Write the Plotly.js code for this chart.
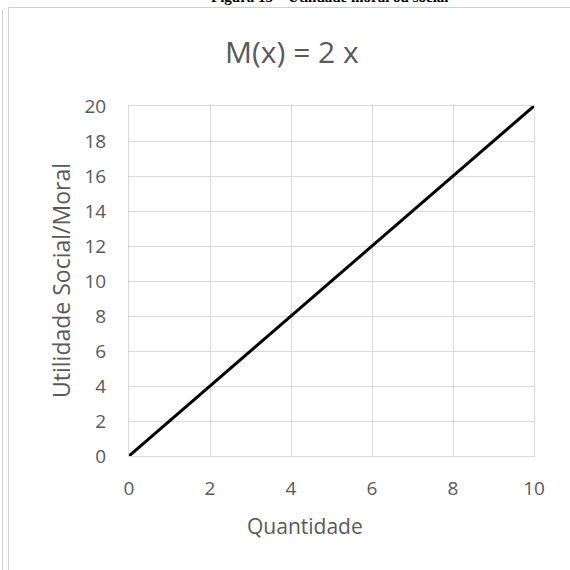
<!DOCTYPE html>
<html>
<head>
<meta charset="utf-8">
<script src="https://cdn.plot.ly/plotly-3.0.1.min.js"></script>
<style>
  html, body { margin: 0; padding: 0; background: #ffffff; }
  #chart { width: 570px; height: 570px; }
</style>
</head>
<body>
<div id="chart"></div>
<script>
// M(x) = 2x, sampled at the endpoints of the quantity range
const quantidade = [0, 10];
const utilidade = [0, 20];

const xTicks = [0, 2, 4, 6, 8, 10];
const yTicks = [0, 2, 4, 6, 8, 10, 12, 14, 16, 18, 20];

const chartTitle = 'M(x) = 2 x';
const xTitle = 'Quantidade';
const yTitle = 'Utilidade Social/Moral';
const caption = 'Figura 15 – Utilidade moral ou social';

const font = '"Open Sans", "Noto Sans", sans-serif';
const textColor = '#595959';
const gridColor = '#d9d9d9';

// plot area geometry (pixels)
const L = 129, T = 106, W = 405, H = 350;
const px = x => (x - L) / W;
const py = y => (T + H - y) / H;

const trace = {
  x: quantidade,
  y: utilidade,
  type: 'scatter',
  mode: 'lines',
  line: { color: '#000000', width: 3 },
  hoverinfo: 'skip'
};

const layout = {
  width: 570,
  height: 570,
  margin: { l: L, r: 570 - L - W, t: T, b: 570 - T - H, pad: 0 },
  paper_bgcolor: '#ffffff',
  plot_bgcolor: '#ffffff',
  showlegend: false,
  xaxis: {
    range: [0, 10],
    tickvals: xTicks,
    ticktext: xTicks.map(String),
    showgrid: true,
    gridcolor: gridColor,
    gridwidth: 1,
    zeroline: false,
    showline: true,
    linecolor: gridColor,
    linewidth: 1,
    mirror: true,
    ticks: '',
    ticklabelstandoff: 15,
    tickfont: { family: font, size: 19, color: textColor },
    fixedrange: true
  },
  yaxis: {
    range: [0, 20],
    tickvals: yTicks,
    ticktext: yTicks.map(String),
    showgrid: true,
    gridcolor: gridColor,
    gridwidth: 1,
    zeroline: false,
    showline: true,
    linecolor: gridColor,
    linewidth: 1,
    mirror: true,
    ticks: '',
    ticklabelstandoff: 18,
    tickfont: { family: font, size: 19, color: textColor },
    fixedrange: true
  },
  annotations: [
    {
      text: chartTitle, xref: 'paper', yref: 'paper',
      x: px(292), y: py(52), xanchor: 'center', yanchor: 'middle',
      showarrow: false, font: { family: font, size: 30, color: textColor }
    },
    {
      text: xTitle, xref: 'paper', yref: 'paper',
      x: px(305), y: py(526), xanchor: 'center', yanchor: 'middle',
      showarrow: false, font: { family: font, size: 21, color: textColor }
    },
    {
      text: yTitle, xref: 'paper', yref: 'paper',
      x: px(61), y: py(281), xanchor: 'center', yanchor: 'middle',
      textangle: -90,
      showarrow: false, font: { family: font, size: 23, color: textColor }
    },
    {
      text: '<b>' + caption + '</b>', xref: 'paper', yref: 'paper',
      x: px(330), y: py(-3), xanchor: 'center', yanchor: 'middle',
      showarrow: false, font: { family: '"Liberation Serif", serif', size: 15, color: '#000000' }
    }
  ],
  shapes: [
    // chart frame
    {
      type: 'rect', xref: 'paper', yref: 'paper',
      x0: px(8.5), x1: px(580), y0: py(7.5), y1: py(580),
      line: { color: '#d0d0d0', width: 1 }, fillcolor: 'rgba(0,0,0,0)', layer: 'below'
    },
    // page margin rule
    {
      type: 'line', xref: 'paper', yref: 'paper',
      x0: px(2.5), x1: px(2.5), y0: py(10), y1: py(580),
      line: { color: '#d0d0d0', width: 1 }, layer: 'below'
    }
  ]
};

Plotly.newPlot('chart', [trace], layout, { staticPlot: true, displayModeBar: false });
</script>
</body>
</html>
